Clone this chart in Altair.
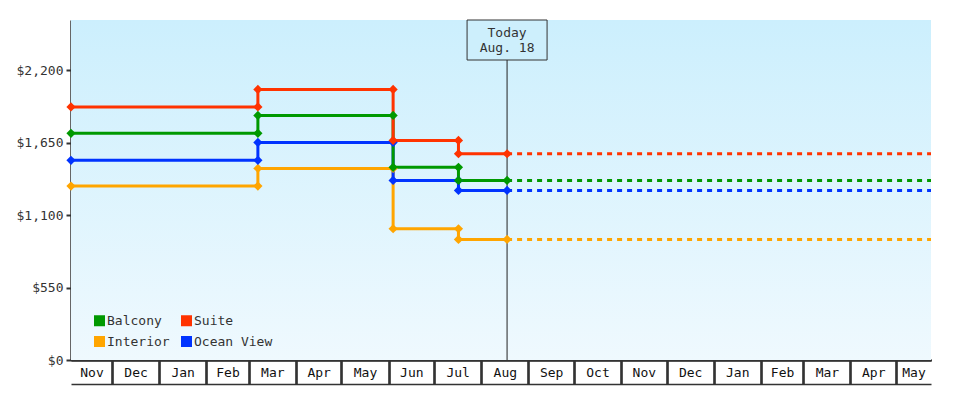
import altair as alt
import pandas as pd
from datetime import datetime, timezone

# ---- data ----
series = ["Interior", "Ocean View", "Balcony", "Suite"]
legend_order = ["Balcony", "Interior", "Suite", "Ocean View"]
colors = ["#009900", "#ffa500", "#ff3300", "#0033ff"]

change_dates = ["2016-11-04", "2017-03-07", "2017-06-04", "2017-07-17", "2017-08-18"]
today = "2017-08-18"
domain_start = "2016-11-04"
domain_end = "2018-05-24"

# price in each period (period i runs change_dates[i] -> change_dates[i+1])
prices = {
    "Suite":      [1920, 2053, 1666, 1565],
    "Balcony":    [1720, 1856, 1462, 1363],
    "Ocean View": [1515, 1651, 1363, 1287],
    "Interior":   [1320, 1454, 996, 915],
}

y_ticks = [0, 550, 1100, 1650, 2200]
y_max = 2580

month_starts = ["2016-12-01", "2017-01-01", "2017-02-01", "2017-03-01", "2017-04-01",
                "2017-05-01", "2017-06-01", "2017-07-01", "2017-08-01", "2017-09-01",
                "2017-10-01", "2017-11-01", "2017-12-01", "2018-01-01", "2018-02-01",
                "2018-03-01", "2018-04-01", "2018-05-01"]


def ms(s):
    d = datetime.strptime(s, "%Y-%m-%d").replace(tzinfo=timezone.utc)
    return int(d.timestamp() * 1000)


# step rows
rows = []
for s in series:
    p = prices[s]
    k = 0
    for i in range(len(p)):
        rows.append({"series": s, "date": change_dates[i], "price": p[i], "k": k}); k += 1
        rows.append({"series": s, "date": change_dates[i + 1], "price": p[i], "k": k}); k += 1
step_df = pd.DataFrame(rows)

proj_df = pd.DataFrame([
    {"series": s, "date": d, "price": prices[s][-1], "k": j}
    for s in series for j, d in enumerate([today, domain_end])
])

today_df = pd.DataFrame([{"date": today, "label": ["Today", "Aug. 18"]}])
bg_df = pd.DataFrame([{"start": domain_start, "end": domain_end, "lo": 0, "hi": y_max}])

# axis values
bounds = [ms(domain_start)] + [ms(m) for m in month_starts] + [ms(domain_end)]
label_vals = [(bounds[i] + bounds[i + 1]) / 2 for i in range(len(bounds) - 1)]
tick_vals = [ms(m) for m in month_starts]

FONT = "DejaVu Sans Mono"
DARK = "#333333"

xscale = alt.Scale(type="utc", domain=[ms(domain_start), ms(domain_end)], nice=False)
yscale = alt.Scale(domain=[0, y_max], nice=False)
cscale = alt.Scale(domain=legend_order, range=colors)
color = alt.Color("series:N", scale=cscale,
                  legend=alt.Legend(title=None, orient="none", legendX=22, legendY=294,
                                    columns=2, direction="vertical",
                                    symbolType="square", symbolSize=121,
                                    symbolStrokeWidth=0, symbolOpacity=1,
                                    labelFont=FONT, labelFontSize=13, labelColor=DARK,
                                    columnPadding=10, rowPadding=7, labelOffset=1,
                                    padding=0))

y_axis = alt.Axis(values=y_ticks, format="$,d", title=None, grid=False,
                  domainColor=DARK, domainWidth=2.5, tickColor=DARK,
                  tickWidth=2, tickSize=5, labelPadding=3,
                  labelFont=FONT, labelFontSize=13, labelColor=DARK)
yenc = alt.Y("price:Q", scale=yscale, axis=y_axis)

x_ticks_axis = alt.Axis(values=tick_vals, labels=False, title=None, grid=False,
                        tickSize=24, tickColor=DARK, tickWidth=1.5,
                        domainColor=DARK, domainWidth=1.5, orient="bottom")
x_label_axis = alt.Axis(values=label_vals, ticks=False, tickSize=0, title=None, grid=False,
                        labelExpr="utcFormat(datum.value, '%b')", labelFlush=False,
                        labelOverlap=False, labelPadding=-12, labelBaseline="middle",
                        labelFont=FONT, labelFontSize=13, labelColor="#111111",
                        domainColor=DARK, domainWidth=1.5, offset=24, orient="bottom")

gradient = alt.LinearGradient(
    gradient="linear", x1=0, y1=0, x2=0, y2=1,
    stops=[alt.GradientStop(offset=0, color="#cceffd"),
           alt.GradientStop(offset=1, color="#eff9fe")])

bg = alt.Chart(bg_df).mark_rect(fill=gradient, strokeWidth=0).encode(
    x=alt.X("start:T", scale=xscale, axis=x_ticks_axis), x2="end:T",
    y=alt.Y("lo:Q", scale=yscale, axis=y_axis), y2="hi:Q")

rule = alt.Chart(today_df).mark_rule(color="#222222", strokeWidth=1).encode(
    x=alt.X("date:T", scale=xscale, axis=x_ticks_axis),
    y=alt.value(20), y2=alt.value(340))

steps = alt.Chart(step_df).mark_line(strokeWidth=3).encode(
    x=alt.X("date:T", scale=xscale, axis=x_ticks_axis),
    y=yenc, color=color, order="k:Q")

pts = alt.Chart(step_df).mark_point(shape="diamond", filled=True, size=85, opacity=1).encode(
    x=alt.X("date:T", scale=xscale, axis=x_ticks_axis),
    y=yenc, color=alt.Color("series:N", scale=cscale, legend=None))

proj = alt.Chart(proj_df).mark_line(strokeWidth=3, strokeDash=[5, 5]).encode(
    x=alt.X("date:T", scale=xscale, axis=x_label_axis),
    y=yenc, color=alt.Color("series:N", scale=cscale, legend=None), order="k:Q")

box = alt.Chart(today_df).mark_point(
    shape="M-1,-0.5L1,-0.5L1,0.5L-1,0.5Z", size=6400, filled=True,
    fill="#cdeffc", stroke=DARK, strokeWidth=1, opacity=1).encode(
    x=alt.X("date:T", scale=xscale, axis=x_ticks_axis),
    y=alt.value(20))

txt = alt.Chart(today_df).mark_text(font=FONT, fontSize=13, color=DARK, dy=-7,
                                    lineHeight=15, baseline="middle", align="center").encode(
    x=alt.X("date:T", scale=xscale, axis=x_ticks_axis),
    y=alt.value(20), text="label")

chart = alt.layer(bg, rule, steps, pts, proj, box, txt).resolve_axis(x="independent").properties(
    width=860, height=340,
    autosize=alt.AutoSizeParams(type="none"),
    padding={"left": 63, "top": 12, "right": 40, "bottom": 30},
    background="white",
).configure_view(stroke="transparent")

chart.save("out.html", embed_options={"renderer": "svg", "actions": False})
